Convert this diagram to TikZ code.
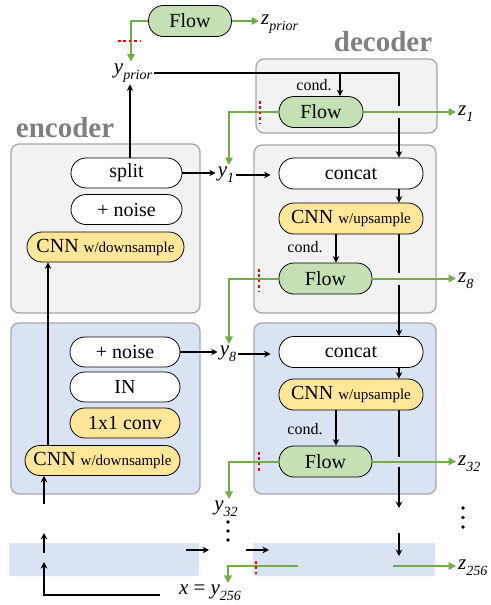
\documentclass[tikz,border=0pt]{standalone}
\usepackage{fontspec}
\setmainfont{Liberation Serif}
\usetikzlibrary{arrows.meta,calc}
\definecolor{panelgray}{HTML}{F2F2F2}
\definecolor{panelborder}{HTML}{A6A6A6}
\definecolor{panelblue}{HTML}{DAE3F3}
\definecolor{cnnyellow}{HTML}{FFE699}
\definecolor{flowgreen}{HTML}{C5E0B4}
\definecolor{linegreen}{HTML}{70AD47}
\definecolor{titlegray}{HTML}{808080}
\newcommand\fsz[1]{\fontsize{#1}{#1}\selectfont}
\newcommand\mysub[1]{\raisebox{-0.28em}{\fsz{14}\itshape #1}}
\newcommand\mylab[2]{\textit{#1}\mysub{#2}}
\begin{document}
\begin{tikzpicture}[x=1pt,y=-1pt,
  panel/.style={draw=panelborder, line width=1.3pt, rounded corners=8pt, inner sep=0pt},
  graypanel/.style={panel, fill=panelgray},
  bluepanel/.style={panel, fill=panelblue},
  strip/.style={fill=panelblue, rounded corners=2pt, inner sep=0pt, minimum height=33pt},
  pill/.style={draw=black, line width=0.8pt, rounded corners=15pt, minimum height=30pt, inner sep=0pt, font=\fsz{20}},
  whitepill/.style={pill, fill=white},
  yellowpill/.style={pill, fill=cnnyellow},
  flowpill/.style={pill, fill=flowgreen},
  lbl/.style={inner sep=2pt, font=\fsz{21}},
  condlbl/.style={inner sep=1pt, font=\fsz{16}},
  title/.style={inner sep=0pt, font=\fsz{29}\bfseries, text=titlegray},
  blk/.style={line width=1.1pt},
  arr/.style={blk, -{Stealth[length=6.5pt,width=6.5pt]}},
  gline/.style={draw=linegreen, line width=2pt},
  garr/.style={gline, -{Triangle[length=7.5pt,width=7.5pt]}},
  rdot/.style={draw=red, line width=2.6pt, dash pattern=on 2.6pt off 2.8pt}
]
\useasboundingbox (0,0) rectangle (490,605);

% panels
\node[graypanel, minimum width=189pt, minimum height=169pt] (encA) at (105.5,228.5) {};
\node[bluepanel, minimum width=189pt, minimum height=171pt] (encB) at (105.5,408.5) {};
\node[graypanel, minimum width=181pt, minimum height=74pt] (decA) at (346.5,96) {};
\node[graypanel, minimum width=182pt, minimum height=168pt] (decB) at (345,229) {};
\node[bluepanel, minimum width=182pt, minimum height=171pt] (decC) at (345,408.5) {};
\node[strip, minimum width=190pt] (botL) at (104,559.5) {};
\node[strip, minimum width=182pt] (botR) at (344,559.5) {};

% titles
\node[title] (enctitle) at (65,128) {encoder};
\node[title] (dectitle) at (383,42) {decoder};

% boxes
\node[flowpill, minimum width=83pt, minimum height=31pt] (flowP) at (190,21) {Flow};
\node[flowpill, minimum width=84pt, minimum height=31pt] (flowD1) at (321,112) {Flow};

\node[whitepill, minimum width=111pt] (split) at (126.5,173) {split};
\node[whitepill, minimum width=111pt] (noiseA) at (126.5,209.5) {+ noise};
\node[yellowpill, minimum width=157pt] (cnnA) at (105.5,247) {CNN {\fsz{15}w/downsample}};

\node[whitepill, minimum width=110pt] (noiseB) at (125,352) {+ noise};
\node[whitepill, minimum width=110pt] (inB) at (125,387) {IN};
\node[yellowpill, minimum width=110pt] (convB) at (125,423) {1x1 conv};
\node[yellowpill, minimum width=155pt] (cnnB) at (102.5,460.5) {CNN {\fsz{15}w/downsample}};

\node[whitepill, minimum width=144pt, minimum height=31pt] (concat1) at (351,173.5) {concat};
\node[yellowpill, minimum width=144pt, minimum height=31pt] (cnnU1) at (351,218.5) {CNN {\fsz{15}w/upsample}};
\node[flowpill, minimum width=93pt, minimum height=31pt] (flow1) at (325.5,278.5) {Flow};

\node[whitepill, minimum width=144pt, minimum height=31pt] (concat2) at (351,352) {concat};
\node[yellowpill, minimum width=144pt, minimum height=31pt] (cnnU2) at (351,394.5) {CNN {\fsz{15}w/upsample}};
\node[flowpill, minimum width=93pt, minimum height=31pt] (flow2) at (325.5,461.5) {Flow};

% labels
\node[lbl, anchor=west] (zprior) at (259,24) {\mylab{z}{prior}};
\node[lbl] (yprior) at (133,73) {\mylab{y}{prior}};
\node[lbl] (y1) at (226,175) {\mylab{y}{1}};
\node[lbl] (y8) at (228,354) {\mylab{y}{8}};
\node[lbl] (y32) at (226,509) {\mylab{y}{32}};
\node[lbl] (xy256) at (210,593) {\textit{x} = \mylab{y}{256}};
\node[lbl, anchor=west] (z1) at (456,114) {\mylab{z}{1}};
\node[lbl, anchor=west] (z8) at (456,281) {\mylab{z}{8}};
\node[lbl, anchor=west] (z32) at (456,464) {\mylab{z}{32}};
\node[lbl, anchor=west] (z256) at (456,568) {\mylab{z}{256}};
\node[condlbl] (cond0) at (314,85) {cond.};
\node[condlbl] (cond1) at (305,247) {cond.};
\node[condlbl] (cond2) at (305,429) {cond.};

% helper coordinates
\coordinate (vx) at (399,0);
\coordinate (bx) at (340,0);
\coordinate (cx) at (336,0);
\coordinate (ex) at (48,0);
\coordinate (dA) at (399,508);
\coordinate (dB) at (399,533);
\coordinate (dC) at (399,556);
\coordinate (e1) at (44,504);
\coordinate (e2) at (44,553);
\coordinate (e3) at (44,533);
\coordinate (e4) at (160,595);
\coordinate (e5) at (44,562);
\coordinate (h1) at (186,550);
\coordinate (h2) at (209,550);
\coordinate (h3) at (246,550);
\coordinate (h4) at (269,550);
\coordinate (g1) at (298,566);
\coordinate (g2) at (393,566);

% black connectors
\draw[arr] ($(split.north -| yprior.south)+(-3,0)$) -- ($(yprior.south)+(-3,0)$);
\draw[blk] (yprior.east) -| ($(vx |- flowD1)+(0,-6)$);
\draw[arr] ($(vx |- flowD1)+(0,6)$) -- (vx |- concat1.north);
\draw[arr] (yprior.east -| bx) -- (bx |- flowD1.north);

\draw[arr] (split.east) -- (split.east -| y1.west);
\draw[arr, shorten >=8pt] (y1.east) -- (y1.east -| concat1.west);
\draw[arr] (vx |- concat1.south) -- (vx |- cnnU1.north);
\draw[blk] (vx |- cnnU1.south) -- ($(vx |- flow1)+(0,-6)$);
\draw[arr] ($(vx |- flow1)+(0,6)$) -- (vx |- concat2.north);
\draw[arr] (cx |- cnnU1.south) -- (cx |- flow1.north);

\draw[arr] (noiseB.east) -- (noiseB.east -| y8.west);
\draw[arr, shorten >=8pt] (y8.east) -- (y8.east -| concat2.west);
\draw[arr] (vx |- concat2.south) -- (vx |- cnnU2.north);
\draw[blk] (vx |- cnnU2.south) -- ($(vx |- flow2)+(0,-5)$);
\draw[arr] ($(vx |- flow2)+(0,5)$) -- (dA);
\draw[arr] (dB) -- (dC);
\draw[arr] (cx |- cnnU2.south) -- (cx |- flow2.north);

\draw[arr] (cnnB.north -| ex) -- (cnnA.south -| ex);
\draw[arr] (e1) -- (cnnB.south -| e1);
\draw[arr] (e2) -- (e3);
\draw[arr] (e4) -| (e5);
\draw[arr] (h1) -- (h2);
\draw[arr] (h3) -- (h4);

% dots
\foreach \yy in {522,531,540} \fill (228,\yy) circle (1.9pt);
\foreach \yy in {508,517.5,527} \fill (463,\yy) circle (1.9pt);

% green connectors
\draw[garr] (flowP.east) -- (flowP.east -| zprior.west);
\draw[garr] (flowP.west) -| ($(yprior.north)+(-2,0)$);
\draw[garr] (flowD1.west) -| ($(y1.north)+(3,0)$);
\draw[garr] (flowD1.east) -- (flowD1.east -| z1.west);
\draw[garr] (flow1.west) -| ($(y8.north)+(1,0)$);
\draw[garr] (flow1.east) -- (flow1.east -| z8.west);
\draw[garr] (flow2.west) -| ($(y32.north)+(3,0)$);
\draw[garr] (flow2.east) -- (flow2.east -| z32.west);
\draw[garr] (g1) -| ($(xy256.north)+(18,0)$);
\draw[garr] (g2) -- (g2 -| z256.west);

% red dotted split marks
\draw[rdot] (118,41) -- (141,41);
\draw[rdot] (260,101) -- (260,123);
\draw[rdot] (259,269) -- (259,291);
\draw[rdot] (259,452) -- (259,473);
\draw[rdot] (256,561) -- (256,577);
\end{tikzpicture}
\end{document}
